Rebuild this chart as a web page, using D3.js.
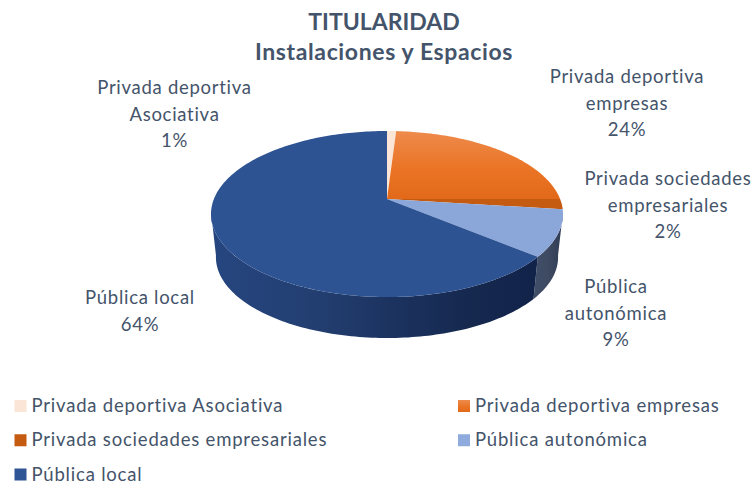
<!DOCTYPE html>
<html>
<head>
<meta charset="utf-8">
<script src="https://cdn.jsdelivr.net/npm/d3@7"></script>
<style>
  body { margin: 0; background: #fff; }
  svg { display: block; }
  text { font-family: Lato, "Open Sans", sans-serif; fill: #44546a; }
</style>
</head>
<body>
<div id="chart"></div>
<script>
const categories = ["Privada deportiva Asociativa", "Privada deportiva empresas", "Privada sociedades empresariales", "Pública autonómica", "Pública local"];
const values = [1, 24, 2, 9, 64];
const topColors = ["#fbe5d6", "url(#orangeTop)", "#c55a11", "#8ba7da", "#2e5393"];
const sideColors = ["#b9a89c", "#a34f14", "#8a3f0c", "url(#paleSide)", "url(#blueSide)"];
const legendColors = ["#fbe5d6", "url(#orangeTop)", "#c55a11", "#8faadc", "#2f5597"];
const titleLines = ["TITULARIDAD", "Instalaciones y Espacios"];
const labelLines = [
  ["Privada deportiva", "Asociativa", "1%"],
  ["Privada deportiva", "empresas", "24%"],
  ["Privada sociedades", "empresariales", "2%"],
  ["Pública", "autonómica", "9%"],
  ["Pública local", "64%"]
];

const width = 754;
const height = 483;
const apexX = 387, apexY = 199;
const radX = 173.1, radY = 80.3, tilt = 0.181, depth = 43.7, baseScale = 0.972;
const labelPos = [[174.5, 94], [627, 83], [668, 185], [616, 293], [140, 304]];
const lineHeight = 26.7;

const svg = d3.select("#chart").append("svg").attr("width", width).attr("height", height);
const defs = svg.append("defs");

function gradient(id, x2, y2, stops) {
  const g = defs.append("linearGradient").attr("id", id).attr("x1", 0).attr("y1", 0).attr("x2", x2).attr("y2", y2);
  stops.forEach(s => g.append("stop").attr("offset", s[0]).attr("stop-color", s[1]));
}
gradient("orangeTop", 0, 1, [[0, "#ee8b4c"], [0.55, "#ea7425"], [1, "#e2691a"]]);
gradient("blueSide", 1, 0, [[0, "#264680"], [0.3, "#233f72"], [0.55, "#1c3360"], [0.8, "#15284e"], [1, "#12234a"]]);
gradient("paleSide", 1, 0, [[0, "#414e68"], [0.5, "#3d4a62"], [1, "#2e3b52"]]);

// rim point of the disc, angle clockwise from the back, with perspective
function rim(a) {
  const u = Math.sin(a), v = Math.cos(a), w = 1 + tilt * v;
  return [apexX + radX * u / w, apexY - radY * v / w];
}
function arcPoints(a0, a1) {
  const n = Math.max(2, Math.ceil((a1 - a0) / 0.02));
  return d3.range(n + 1).map(i => rim(a0 + (a1 - a0) * i / n));
}

const pie = d3.pie().sort(null).value(d => d);
const arcs = pie(values);
const line = d3.line();

// the side wall shows only on the front half of the rim
const edgeR = Math.PI / 2 + Math.atan(tilt) * 0.9;
const edgeL = 2 * Math.PI - edgeR;
const g = svg.append("g");

arcs.forEach((d, i) => {
  const a0 = Math.max(d.startAngle, edgeR), a1 = Math.min(d.endAngle, edgeL);
  if (a1 <= a0) return;
  const upper = arcPoints(a0, a1);
  const lower = upper.map(p => [apexX + (p[0] - apexX) * baseScale, apexY + (p[1] - apexY) * baseScale + depth]).reverse();
  g.append("path")
    .attr("d", line(upper.concat(lower)) + "Z")
    .attr("fill", sideColors[i]);
});

arcs.forEach((d, i) => {
  g.append("path")
    .attr("d", line([[apexX, apexY]].concat(arcPoints(d.startAngle, d.endAngle))) + "Z")
    .attr("fill", topColors[i]);
});

const title = svg.append("text").attr("text-anchor", "middle").attr("font-weight", 700).attr("font-size", 23);
titleLines.forEach((t, i) => {
  title.append("tspan").attr("x", 384).attr("y", 30 + i * 30).attr("letter-spacing", i ? 0.62 : 0).text(t);
});

categories.forEach((c, i) => {
  const t = svg.append("text").attr("text-anchor", "middle").attr("font-size", 18.5).attr("letter-spacing", 0.72);
  labelLines[i].forEach((s, j) => {
    t.append("tspan").attr("x", labelPos[i][0]).attr("y", labelPos[i][1] + j * lineHeight).text(s);
  });
});

const legendX = d3.scaleOrdinal().domain([0, 1]).range([14.5, 458]);
const legendY = d3.scaleLinear().domain([0, 2]).range([406, 474.5]);
categories.forEach((c, i) => {
  const x = legendX(i % 2), y = legendY(Math.floor(i / 2));
  svg.append("rect").attr("x", x).attr("y", y - 6).attr("width", 12).attr("height", 12).attr("fill", legendColors[i]);
  svg.append("text").attr("x", x + 17).attr("y", y + 6).attr("font-size", 18.5).attr("letter-spacing", 0.8).text(c);
});
</script>
</body>
</html>
